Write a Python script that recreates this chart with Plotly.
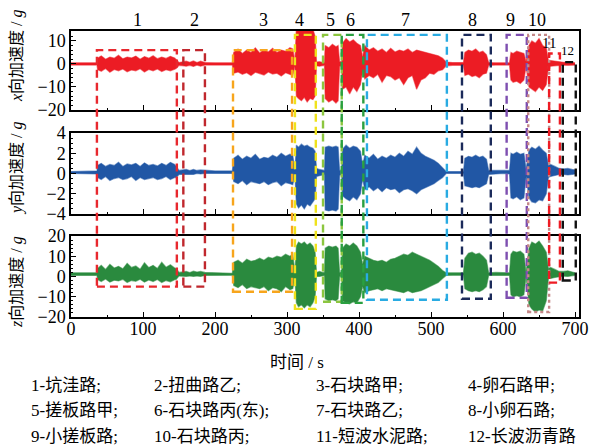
import plotly.graph_objects as go

# ---------------- data (envelopes) ----------------
t = [0, 36,
     37, 42, 48, 54, 60, 66, 72, 78, 84, 90, 96, 102, 108, 114, 120, 126, 132, 138, 144, 146,
     150, 160, 165, 170, 175, 180, 186, 200, 224,
     226, 232, 238, 244, 250, 256, 262, 268, 274, 280, 286, 292, 298, 304, 308,
     311,
     313, 316, 320, 324, 328, 332, 336, 339, 341,
     345, 350, 352,
     353, 358, 363, 368, 371, 373,
     376, 377, 382, 387, 392, 397, 402, 405,
     408, 414, 420, 426, 432, 438, 444, 450, 456, 462, 468, 474, 480, 486, 492, 498, 504, 510, 516, 521,
     530, 545,
     547, 552, 557, 562, 567, 572, 577, 580,
     590, 600, 609,
     611, 614, 619, 624, 629, 632,
     636, 640, 645, 650, 655, 660, 663,
     666, 672, 678, 684, 690, 696, 700]

x_hi = [0.5, 0.5,
        2.5, 3.5, 2.0, 3.0, 2.5, 3.8, 2.2, 3.0, 2.6, 3.4, 2.0, 3.2, 2.5, 3.6, 2.3, 3.0, 2.4, 3.3, 2.6, 2.0,
        0.6, 1.2, 0.7, 1.3, 0.6, 1.2, 0.6, 0.5, 0.5,
        5.0, 6.5, 4.5, 6.0, 5.0, 7.0, 4.8, 6.2, 5.2, 6.8, 5.0, 6.0, 5.5, 7.0, 6.5,
        1.0,
        16, 16, 16, 16, 16, 16, 15, 12, 0.8,
        1.0, 0.6, 0.6,
        8.0, 7.0, 8.5, 7.5, 8.0, 1.0,
        1.0, 9.0, 11.0, 9.5, 10.5, 9.0, 8.0, 3.0,
        8.0, 6.0, 7.0, 5.5, 6.5, 5.0, 6.8, 5.2, 6.0, 5.5, 6.5, 5.0, 6.0, 5.5, 5.0, 4.5, 4.0, 3.5, 2.5, 0.8,
        0.6, 0.6,
        5.0, 6.0, 5.5, 6.5, 5.0, 5.5, 4.0, 0.6,
        0.5, 0.5, 0.5,
        5.0, 4.5, 5.5, 5.0, 4.5, 1.0,
        8.0, 10.0, 9.0, 11.0, 8.0, 7.0, 1.5,
        1.5, 1.2, 0.8, 0.7, 0.8, 0.6, 0.5]
x_lo = [-0.5, -0.5,
        -2.5, -3.2, -2.0, -3.6, -2.4, -3.0, -2.2, -3.4, -2.6, -3.0, -2.1, -3.5, -2.4, -3.0, -2.2, -3.3, -2.5, -3.0, -2.3, -2.0,
        -0.6, -1.0, -0.6, -1.1, -0.5, -1.0, -0.5, -0.5, -0.5,
        -4.0, -3.5, -4.5, -3.8, -5.0, -3.6, -4.2, -4.8, -3.5, -4.4, -4.0, -5.2, -3.8, -4.5, -5.0,
        -1.0,
        -14, -15, -16, -14.5, -16.5, -15, -15.5, -14, -0.8,
        -1.0, -0.6, -0.6,
        -15, -16.5, -15.5, -17, -16, -1.0,
        -1.0, -11, -10, -13, -10, -12, -9, -3,
        -6.5, -5.0, -6.0, -4.5, -8.0, -5.0, -5.5, -7.0, -6.0, -9.0, -6.0, -5.0, -11.0, -7.0, -6.0, -4.0, -4.5, -3.0, -2.5, -0.8,
        -0.6, -0.6,
        -5.0, -4.5, -5.5, -5.0, -6.0, -4.5, -4.0, -0.6,
        -0.5, -0.5, -0.5,
        -7.0, -8.0, -7.5, -8.5, -7.0, -1.0,
        -10, -11, -12, -10, -11.5, -9, -1.5,
        -1.0, -0.8, -0.6, -0.5, -0.6, -0.5, -0.5]

y_hi = [0.2, 0.25,
        0.8, 1.0, 0.7, 0.9, 0.8, 1.1, 0.7, 0.95, 0.85, 1.0, 0.7, 1.05, 0.8, 0.9, 0.75, 1.0, 0.8, 1.1, 0.9, 0.7,
        0.3, 0.4, 0.3, 0.4, 0.3, 0.35, 0.3, 0.25, 0.25,
        1.5, 1.8, 1.4, 1.7, 1.5, 1.9, 1.4, 1.6, 1.5, 1.8, 1.6, 2.0, 1.7, 1.9, 1.8,
        0.3,
        2.8, 2.6, 2.9, 2.7, 2.8, 2.6, 2.5, 2.2, 0.5,
        0.4, 0.3, 0.3,
        2.6, 2.7, 2.6, 2.7, 2.6, 0.3,
        0.3, 2.4, 2.8, 2.5, 2.7, 2.6, 2.2, 0.8,
        1.8, 1.5, 1.9, 1.4, 1.7, 1.5, 1.8, 1.6, 2.0, 1.7, 2.2, 1.9, 2.6, 2.0, 1.7, 1.5, 1.3, 1.0, 0.6, 0.2,
        0.2, 0.2,
        1.5, 1.7, 1.6, 1.8, 1.6, 1.7, 1.4, 0.3,
        0.3, 0.3, 0.3,
        2.0, 1.9, 2.1, 1.9, 2.0, 0.4,
        2.3, 2.6, 2.4, 2.7, 2.3, 2.0, 0.8,
        0.9, 0.7, 0.5, 0.45, 0.5, 0.4, 0.35]
y_lo = [0.0, -0.05,
        -0.4, -0.6, -0.3, -0.7, -0.5, -0.4, -0.6, -0.5, -0.3, -0.7, -0.4, -0.6, -0.5, -0.4, -0.6, -0.5, -0.3, -0.6, -0.4, -0.4,
        -0.1, -0.1, -0.05, -0.1, 0.0, -0.05, 0.0, 0.0, 0.0,
        -0.8, -1.0, -0.7, -1.1, -0.8, -0.9, -1.0, -0.8, -1.1, -0.9, -0.8, -1.2, -0.9, -1.0, -1.1,
        -0.2,
        -3.0, -3.4, -3.1, -3.5, -3.0, -3.2, -2.8, -2.5, -0.3,
        -0.2, -0.1, -0.1,
        -3.6, -3.7, -3.6, -3.7, -3.5, -0.2,
        -0.1, -2.2, -2.5, -2.7, -2.3, -2.6, -2.0, -0.5,
        -1.6, -1.3, -1.7, -1.4, -1.8, -1.4, -1.6, -1.5, -1.9, -1.6, -1.5, -1.7, -2.0, -1.6, -1.4, -1.2, -1.0, -0.7, -0.4, 0.0,
        0.0, 0.0,
        -1.2, -1.3, -1.4, -1.3, -1.4, -1.2, -1.0, -0.1,
        -0.05, 0.0, -0.05,
        -2.4, -2.5, -2.3, -2.6, -2.4, -0.3,
        -2.4, -2.8, -2.9, -2.6, -2.7, -2.0, -0.4,
        -0.3, -0.2, -0.1, -0.1, -0.15, -0.1, -0.05]

z_hi = [1.8, 1.8,
        4.0, 5.5, 3.5, 6.0, 4.2, 5.0, 3.8, 6.5, 4.5, 5.2, 3.6, 6.8, 4.4, 5.5, 4.0, 7.0, 4.6, 5.8, 4.2, 4.0,
        2.0, 2.5, 2.0, 2.6, 2.2, 2.5, 2.0, 1.8, 1.6,
        7.0, 8.0, 6.5, 8.5, 7.5, 8.0, 9.0, 8.0, 9.5, 9.0, 10.0, 9.5, 11.0, 10.0, 11.0,
        2.0,
        15, 17, 16, 17, 15.5, 16.5, 15, 12, 2.0,
        2.5, 2.0, 2.0,
        14, 15, 14.5, 15, 14, 2.0,
        2.0, 14, 16, 15, 16.5, 15, 12, 6,
        10, 9, 8, 7.5, 8, 7, 8.5, 9, 10, 11, 10.5, 12, 11, 10, 9, 8, 6.5, 5, 3, 1.8,
        1.8, 1.8,
        9, 11.5, 12, 11, 11.5, 10, 8, 1.8,
        2.0, 1.8, 1.8,
        11, 12.5, 12, 12.5, 11, 2.0,
        14, 17, 16, 17.5, 15, 12, 4,
        4.5, 3.5, 2.5, 2.5, 2.8, 2.2, 1.8]
z_lo = [0.5, 0.5,
        -1.5, -2.5, -1.2, -2.8, -1.8, -2.2, -1.4, -3.0, -2.0, -2.4, -1.3, -2.8, -1.7, -2.5, -1.5, -3.0, -2.0, -2.6, -1.6, -1.5,
        0.3, 0.0, 0.3, 0.0, 0.3, 0.0, 0.5, 0.6, 0.6,
        -4.5, -5.5, -4.0, -6.0, -5.0, -5.5, -6.0, -5.0, -7.0, -5.5, -6.0, -7.5, -5.0, -6.5, -6.0,
        -1.0,
        -13, -15, -14, -15.5, -14, -15, -13, -10, 0.0,
        0.0, 0.5, 0.5,
        -11, -12, -11.5, -12, -11, 0.0,
        0.0, -12, -13, -13.5, -12.5, -13, -10, -5,
        -8, -7, -6.5, -6, -7, -6, -6.5, -7, -7.5, -8, -7, -8, -7.5, -7, -6, -5, -4, -3, -1, 0.5,
        0.6, 0.6,
        -6, -7, -7.5, -7, -7.5, -6.5, -5, 0.5,
        0.5, 0.6, 0.5,
        -9, -10, -9.5, -10, -9, 0.0,
        -14, -16, -17.5, -16.5, -17, -12, -1,
        -1.0, -0.5, 0.0, 0.2, 0.0, 0.4, 0.6]

# road-section boxes: left/right time, top (x-panel units), bottom (z-panel units)
box_labels = ["1", "2", "3", "4", "5", "6", "7", "8", "9", "10", "11", "12"]
box_left = [36, 156, 225, 311, 350, 376, 411, 543, 605, 635, 664, 683]
box_right = [147, 186, 307, 340, 376, 406, 522, 583, 633, 664, 679, 701]
box_top = [6, 6, 6, 12.6, 12.6, 12.6, 12.6, 12.6, 12.6, 12.6, 4.5, 0.8]
box_bottom = [-5, -5, -7.5, -16, -12.5, -13, -11.5, -11, -10.5, -17.5, -3, -2]
label_x = [93, 172, 267, 318, 360, 388, 465, 558, 611, 647, 664, 690]

legend_items = [
    ["1-坑洼路;", "2-扭曲路乙;", "3-石块路甲;", "4-卵石路甲;"],
    ["5-搓板路甲;", "6-石块路丙(东);", "7-石块路乙;", "8-小卵石路;"],
    ["9-小搓板路;", "10-石块路丙;", "11-短波水泥路;", "12-长波沥青路"],
]

# ---------------- styling ----------------
W, H = 599, 448
ML, MR, MT, MB = 71, 20, 31, 131
PH = H - MT - MB
PW = W - ML - MR
X_RANGE = [0, 705.5]
dom1, dom2, dom3 = [0.7238, 1.0], [0.3601, 0.6434], [0.0, 0.2832]
r1, r2, r3 = [-20, 14.3], [-4, 4], [-20, 20]
FONT = "Times New Roman, Liberation Serif, Noto Sans CJK SC, serif"
box_colors = ["#e8282e", "#c0272d", "#f7a51c", "#efe21c", "#8cc63f", "#2aa040",
              "#29abe2", "#1b2a5a", "#7e4fb0", "#c48888", "#ee1c24", "#111111"]
box_dash = ["8px,5px"] * 9 + ["3px,3px", "8px,5px", "8px,5px"]

fig = go.Figure()

def add_band(lo, hi, color, fringe, xa, ya):
    fig.add_trace(go.Scatter(x=t, y=lo, mode="lines", line=dict(color=fringe, width=1.2),
                             xaxis=xa, yaxis=ya, showlegend=False, hoverinfo="skip"))
    fig.add_trace(go.Scatter(x=t, y=hi, mode="lines", line=dict(color=fringe, width=1.2),
                             fill="tonexty", fillcolor=color,
                             xaxis=xa, yaxis=ya, showlegend=False, hoverinfo="skip"))

add_band(x_lo, x_hi, "#ec1c24", "rgba(236,28,36,0.55)", "x", "y")
add_band(y_lo, y_hi, "#2157a5", "rgba(33,87,165,0.55)", "x2", "y2")
add_band(z_lo, z_hi, "#2a8a3e", "rgba(42,138,62,0.55)", "x3", "y3")

def to_paper(v, rng, dom):
    return dom[0] + (v - rng[0]) / (rng[1] - rng[0]) * (dom[1] - dom[0])

shapes = []
for i in range(len(box_left)):
    shapes.append(dict(type="rect", xref="x3", yref="paper",
                       x0=box_left[i], x1=box_right[i],
                       y0=to_paper(box_bottom[i], r3, dom3), y1=to_paper(box_top[i], r1, dom1),
                       line=dict(color=box_colors[i], width=2.4, dash=box_dash[i]),
                       layer="above"))

def py2paper(py):
    return (H - MB - py) / PH

def px2paper(px):
    return (px - ML) / PW

annotations = []
for i, lab in enumerate(box_labels):
    if i < 10:
        annotations.append(dict(x=label_x[i], y=py2paper(20), xref="x3", yref="paper",
                                xanchor="center", yanchor="middle",
                                text=lab, showarrow=False, font=dict(family=FONT, size=18, color="black")))
annotations.append(dict(x=label_x[10], y=py2paper(43), xref="x3", yref="paper", text="11",
                        xanchor="center", yanchor="middle",
                        showarrow=False, font=dict(family=FONT, size=15, color="black")))
annotations.append(dict(x=label_x[11], y=py2paper(50), xref="x3", yref="paper", text="12",
                        xanchor="center", yanchor="middle",
                        showarrow=False, font=dict(family=FONT, size=13, color="black")))

ytitles = [("<i>x</i>向加速度 / <i>g</i>", 56), ("<i>y</i>向加速度 / <i>g</i>", 168), ("<i>z</i>向加速度 / <i>g</i>", 282)]
for txt, py in ytitles:
    annotations.append(dict(x=px2paper(17), y=py2paper(py), xref="paper", yref="paper",
                            xanchor="center", yanchor="middle",
                            text=txt, textangle=-90, showarrow=False,
                            font=dict(family=FONT, size=16, color="black")))

annotations.append(dict(x=px2paper(297), y=py2paper(362), xref="paper", yref="paper",
                        xanchor="center", yanchor="middle",
                        text="时间 / s", showarrow=False, font=dict(family=FONT, size=17, color="black")))

col_px = [29, 152, 314, 466]
row_py = [385, 410, 436]
for r, row in enumerate(legend_items):
    for c, txt in enumerate(row):
        annotations.append(dict(x=px2paper(col_px[c]), y=py2paper(row_py[r]),
                                xref="paper", yref="paper", xanchor="left", yanchor="middle",
                                text=txt, showarrow=False,
                                font=dict(family=FONT, size=17, color="black")))

axis_common = dict(showline=True, linecolor="black", linewidth=1.5, mirror=True,
                   ticks="inside", ticklen=5, tickwidth=1.2, tickcolor="black",
                   showgrid=False, zeroline=False, automargin=False,
                   minor=dict(ticks="inside", ticklen=2.5, tickwidth=1, tickcolor="black"),
                   tickfont=dict(family=FONT, size=18, color="black"))

fig.update_layout(
    width=W, height=H, margin=dict(l=ML, r=MR, t=MT, b=MB, autoexpand=False),
    paper_bgcolor="white", plot_bgcolor="white",
    shapes=shapes, annotations=annotations, showlegend=False,
    xaxis=dict(domain=[0, 1], anchor="y", range=X_RANGE, showticklabels=False,
               tickvals=[0, 100, 200, 300, 400, 500, 600, 700], **axis_common),
    xaxis2=dict(domain=[0, 1], anchor="y2", range=X_RANGE, showticklabels=False,
                tickvals=[0, 100, 200, 300, 400, 500, 600, 700], **axis_common),
    xaxis3=dict(domain=[0, 1], anchor="y3", range=X_RANGE, ticklabelstandoff=-5,
                tickvals=[0, 100, 200, 300, 400, 500, 600, 700], **axis_common),
    yaxis=dict(domain=dom1, anchor="x", range=r1, tickvals=[-20, -10, 0, 10], **axis_common),
    yaxis2=dict(domain=dom2, anchor="x2", range=r2, tickvals=[-4, -2, 0, 2, 4], **axis_common),
    yaxis3=dict(domain=dom3, anchor="x3", range=r3, tickvals=[-20, -10, 0, 10, 20], **axis_common),
)

fig.write_html("out.html", config={"displayModeBar": False},
               post_script="document.body.style.margin='0';")
